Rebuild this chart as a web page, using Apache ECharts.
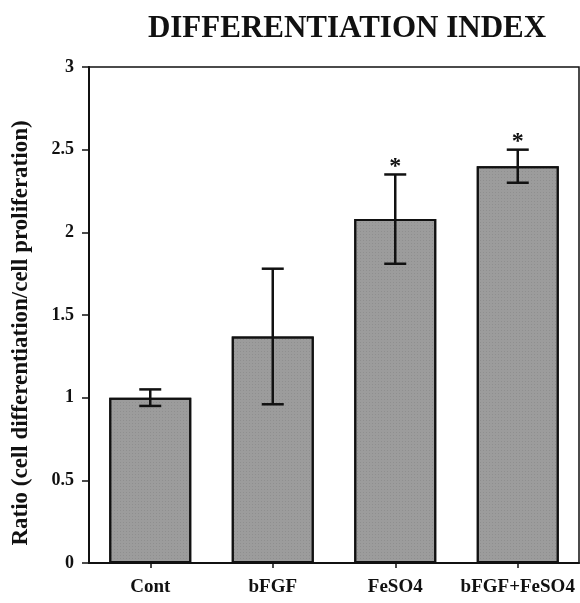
<!DOCTYPE html>
<html>
<head>
<meta charset="utf-8">
<script src="https://cdn.jsdelivr.net/npm/echarts@6/dist/echarts.min.js"></script>
<style>
html,body{margin:0;padding:0;background:#fff;}
#c{width:580px;height:603px;}
</style>
</head>
<body>
<div id="c"></div>
<script>
var categories = ['Cont', 'bFGF', 'FeSO4', 'bFGF+FeSO4'];
var means = [1.00, 1.37, 2.08, 2.40];
var errors = [0.05, 0.41, 0.27, 0.10];
var significant = [false, false, true, true];
var yMin = 0, yMax = 3, yInterval = 0.5;

var FONT = '"Liberation Serif", "DejaVu Serif", serif';
var chart = echarts.init(document.getElementById('c'), null, {renderer: 'canvas'});

var errData = means.map(function (m, i) { return [i, m, errors[i], significant[i] ? 1 : 0]; });

chart.setOption({
  backgroundColor: '#fff',
  animation: false,
  title: {
    text: 'DIFFERENTIATION INDEX',
    left: 342, top: 8, textAlign: 'center',
    textStyle: {fontFamily: FONT, fontWeight: 'bold', fontSize: 31, color: '#111'}
  },
  grid: {left: 89, right: 1, top: 67, bottom: 40, show: true, borderColor: '#111', borderWidth: 1.5, backgroundColor: 'transparent'},
  xAxis: {
    type: 'category', data: categories,
    axisLine: {lineStyle: {color: '#111', width: 2}},
    axisTick: {show: true, alignWithLabel: true, length: 5, inside: false, lineStyle: {color: '#111', width: 1.5}},
    axisLabel: {interval: 0, fontFamily: FONT, fontWeight: 'bold', fontSize: 19, color: '#111', margin: 15}
  },
  yAxis: {
    type: 'value', min: yMin, max: yMax, interval: yInterval,
    name: 'Ratio (cell differentiation/cell proliferation)',
    nameLocation: 'middle', nameGap: 56, nameRotate: 90,
    nameTextStyle: {fontFamily: FONT, fontWeight: 'bold', fontSize: 23, color: '#111', padding: [0, 36, 0, 0]},
    splitLine: {show: false},
    axisLine: {show: true, lineStyle: {color: '#111', width: 2}},
    axisTick: {show: true, length: 7, lineStyle: {color: '#111', width: 1.5}},
    axisLabel: {fontFamily: FONT, fontWeight: 'bold', fontSize: 18, color: '#111', margin: 15}
  },
  series: [
    {
      type: 'bar', data: means, barWidth: 82,
      itemStyle: {
        color: '#9c9c9c', borderColor: '#111', borderWidth: 2,
        decal: {symbol: 'rect', symbolSize: 0.5, dashArrayX: [1, 2], dashArrayY: [1, 2], color: 'rgba(30,30,30,0.4)', rotation: 0}
      },
      z: 2
    },
    {
      type: 'custom', z: 5,
      data: errData,
      renderItem: function (params, api) {
        var x = api.value(0), m = api.value(1), e = api.value(2), s = api.value(3);
        var top = api.coord([x, m + e]);
        var bot = api.coord([x, m - e]);
        var cw = 11;
        var children = [
          {type: 'line', shape: {x1: top[0], y1: top[1], x2: bot[0], y2: bot[1]}, style: {stroke: '#111', lineWidth: 2.5}},
          {type: 'line', shape: {x1: top[0] - cw, y1: top[1], x2: top[0] + cw, y2: top[1]}, style: {stroke: '#111', lineWidth: 2.5}},
          {type: 'line', shape: {x1: bot[0] - cw, y1: bot[1], x2: bot[0] + cw, y2: bot[1]}, style: {stroke: '#111', lineWidth: 2.5}}
        ];
        if (s) {
          children.push({type: 'text', style: {text: '*', x: top[0], y: top[1] - 8, textAlign: 'center', textVerticalAlign: 'middle', fontFamily: FONT, fontWeight: 'bold', fontSize: 24, fill: '#111'}});
        }
        return {type: 'group', children: children};
      }
    }
  ]
});
</script>
</body>
</html>
